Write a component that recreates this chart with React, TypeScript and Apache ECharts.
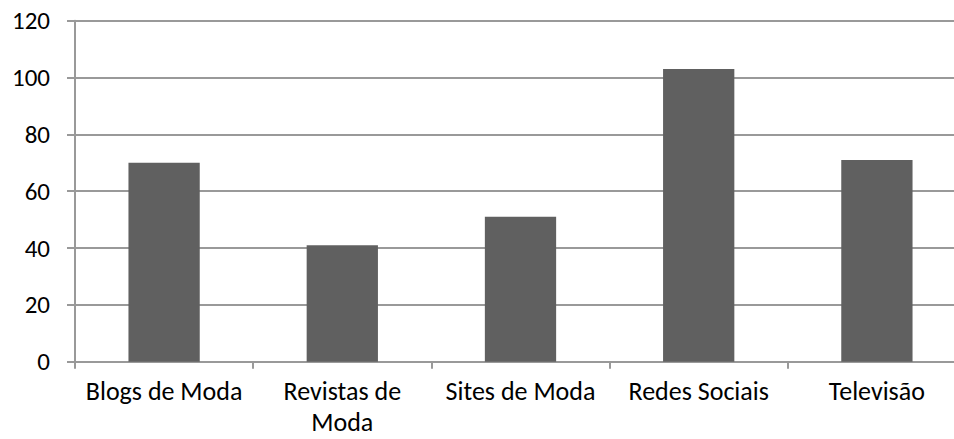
import React, { useEffect, useRef } from "react";
import * as echarts from "echarts";

const categories = ["Blogs de Moda", "Revistas de\nModa", "Sites de Moda", "Redes Sociais", "Televisão"];
const values = [70, 41, 51, 103, 71];
const yMin = 0;
const yMax = 120;
const yStep = 20;

const FONT = "Carlito, Lato, 'Open Sans', sans-serif";

export default function App() {
  const ref = useRef<HTMLDivElement>(null);
  useEffect(() => {
    if (!ref.current) return;
    const chart = echarts.init(ref.current, undefined, { renderer: "svg" });
    chart.setOption({
      animation: false,
      backgroundColor: "#ffffff",
      grid: { left: 75, width: 891, top: 20.7, bottom: 77.3, containLabel: false, outerBoundsMode: "none" },
      xAxis: {
        type: "category",
        data: categories,
        axisLine: { show: true, lineStyle: { color: "#999999", width: 2 } },
        axisTick: { show: true, alignWithLabel: false, length: 7, lineStyle: { color: "#999999", width: 2 } },
        axisLabel: { color: "#000000", fontFamily: FONT, fontSize: 26, margin: 14, lineHeight: 31, interval: 0 },
        splitLine: { show: false },
      },
      yAxis: {
        type: "value",
        min: yMin,
        max: yMax,
        interval: yStep,
        axisLine: { show: true, lineStyle: { color: "#999999", width: 2 } },
        axisTick: { show: true, length: 8, lineStyle: { color: "#999999", width: 2 } },
        axisLabel: { color: "#000000", fontFamily: FONT, fontSize: 25, margin: 25 },
        splitLine: { show: true, lineStyle: { color: "#999999", width: 2 } },
      },
      series: [
        {
          type: "bar",
          data: values,
          barWidth: "40%",
          itemStyle: { color: "#606060" },
        },
      ],
    });
    return () => chart.dispose();
  }, []);
  return <div ref={ref} style={{ position: "absolute", left: 0, top: 0, width: 954, height: 439 }} />;
}
